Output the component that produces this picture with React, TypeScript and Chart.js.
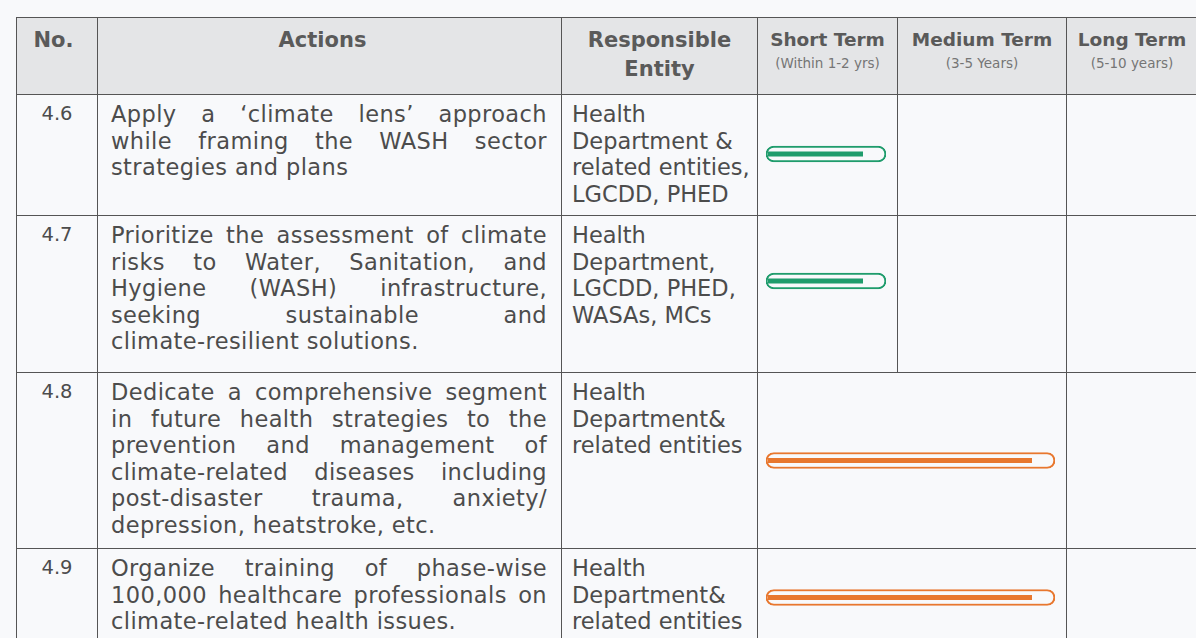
import React, { useEffect, useRef } from "react";
import { Chart, registerables } from "chart.js";

Chart.register(...registerables);

// ---------- data ----------
const ids = ["4.6", "4.7", "4.8", "4.9"];

const actions: string[][] = [
  ["Apply a ‘climate lens’ approach", "while framing the WASH sector", "strategies and plans"],
  [
    "Prioritize the assessment of climate",
    "risks to Water, Sanitation, and",
    "Hygiene (WASH) infrastructure,",
    "seeking sustainable and",
    "climate-resilient solutions.",
  ],
  [
    "Dedicate a comprehensive segment",
    "in future health strategies to the",
    "prevention and management of",
    "climate-related diseases including",
    "post-disaster trauma, anxiety/",
    "depression, heatstroke, etc.",
  ],
  [
    "Organize training of phase-wise",
    "100,000 healthcare professionals on",
    "climate-related health issues.",
  ],
];

const entities: string[][] = [
  ["Health", "Department &", "related entities,", "LGCDD, PHED"],
  ["Health", "Department,", "LGCDD, PHED,", "WASAs, MCs"],
  ["Health", "Department&", "related entities"],
  ["Health", "Department&", "related entities"],
];

// timeframe as term-column indices: 0 = Short, 1 = Medium, 2 = Long
const startTerm = [0, 0, 0, 0];
const endTerm = [1, 1, 2, 2];

const termTitles = ["Short Term", "Medium Term", "Long Term"];
const termSubtitles = ["(Within 1-2 yrs)", "(3-5 Years)", "(5-10 years)"];

// ---------- styles ----------
const PAGE_BG = "#f8f9fb";
const HEAD_BG = "#e4e5e7";
const LINE = "1.5px solid #555";
const spanColors: Record<number, string> = { 1: "#1f9c6c", 2: "#e8772e" };
const rowHeights = [121, 157, 176, 98];
const barPadBottom = [2, 26, 0, 0];
const colWidths = [81, 464, 196, 140, 169, 131];

const innerBarPlugin = {
  id: "innerBar",
  afterDatasetsDraw(chart: any) {
    const meta = chart.getDatasetMeta(0);
    const ctx = chart.ctx;
    const color = chart.data.datasets[0].borderColor;
    meta.data.forEach((el: any) => {
      const p = el.getProps(["x", "y", "base"], true);
      const left = Math.min(p.base, p.x) + 2;
      const right = Math.max(p.base, p.x) - 23;
      ctx.save();
      ctx.fillStyle = color;
      ctx.fillRect(left, p.y - 2.5, right - left, 5);
      ctx.restore();
    });
  },
};

function TermBar({ id, start, end, padBottom }: { id: string; start: number; end: number; padBottom: number }) {
  const ref = useRef<HTMLCanvasElement | null>(null);
  useEffect(() => {
    if (!ref.current) return;
    const color = spanColors[end - start] || "#1f9c6c";
    const chart = new Chart(ref.current, {
      type: "bar",
      data: {
        labels: [id],
        datasets: [
          {
            data: [[start, end]] as any,
            backgroundColor: PAGE_BG,
            borderColor: color,
            borderWidth: 2,
            borderRadius: 8,
            borderSkipped: false,
            barThickness: 16,
          },
        ],
      },
      options: {
        indexAxis: "y",
        animation: false,
        responsive: true,
        maintainAspectRatio: false,
        layout: { padding: { left: 8, right: 11, top: 0, bottom: padBottom } },
        scales: {
          x: { type: "linear", min: start, max: end, display: false },
          y: { display: false },
        },
        plugins: { legend: { display: false }, tooltip: { enabled: false } },
      },
      plugins: [innerBarPlugin],
    });
    return () => chart.destroy();
  }, [id, start, end, padBottom]);
  return (
    <div style={{ position: "absolute", left: 0, top: 0, right: 0, bottom: 0 }}>
      <canvas ref={ref} />
    </div>
  );
}

const font = "'DejaVu Sans', 'Open Sans', sans-serif";

export default function App() {
  const th: React.CSSProperties = {
    border: LINE,
    background: HEAD_BG,
    color: "#5a5a5a",
    fontWeight: 700,
    verticalAlign: "top",
    textAlign: "center",
    padding: 0,
  };
  const td: React.CSSProperties = {
    border: LINE,
    verticalAlign: "top",
    padding: 0,
    color: "#4c4c4c",
    fontSize: 22.5,
    lineHeight: "26.5px",
  };
  return (
    <div
      style={{
        position: "fixed",
        left: 0,
        top: 0,
        right: 0,
        bottom: 0,
        overflow: "hidden",
        background: PAGE_BG,
        fontFamily: font,
      }}
    >
      <table
        style={{
          position: "absolute",
          left: 16,
          top: 17,
          width: colWidths.reduce((a, b) => a + b, 0),
          borderCollapse: "collapse",
          tableLayout: "fixed",
        }}
      >
        <colgroup>
          {colWidths.map((w, i) => (
            <col key={i} style={{ width: w }} />
          ))}
        </colgroup>
        <thead>
          <tr style={{ height: 77 }}>
            <th style={{ ...th, fontSize: 21, lineHeight: "29px", paddingTop: 8, paddingRight: 7 }}>No.</th>
            <th style={{ ...th, fontSize: 21, lineHeight: "29px", paddingTop: 8, paddingRight: 14 }}>Actions</th>
            <th style={{ ...th, fontSize: 21, lineHeight: "29px", paddingTop: 8 }}>
              Responsible
              <br />
              Entity
            </th>
            {termTitles.map((t, i) => (
              <th key={t} style={{ ...th, paddingTop: 10 }}>
                <div style={{ fontSize: 18.5, lineHeight: "24px", whiteSpace: "nowrap" }}>{t}</div>
                <div
                  style={{
                    fontSize: 13.5,
                    lineHeight: "22px",
                    fontWeight: 400,
                    color: "#757575",
                    whiteSpace: "nowrap",
                  }}
                >
                  {termSubtitles[i]}
                </div>
              </th>
            ))}
          </tr>
        </thead>
        <tbody>
          {ids.map((id, r) => {
            const cells: React.ReactNode[] = [];
            for (let t = 0; t < termTitles.length; t++) {
              if (t === startTerm[r]) {
                cells.push(
                  <td
                    key={t}
                    colSpan={endTerm[r] - startTerm[r]}
                    style={{ ...td, position: "relative" }}
                  >
                    <TermBar id={id} start={startTerm[r]} end={endTerm[r]} padBottom={barPadBottom[r]} />
                  </td>
                );
                t = endTerm[r] - 1;
              } else {
                cells.push(<td key={t} style={td} />);
              }
            }
            return (
              <tr key={id} style={{ height: rowHeights[r] }}>
                <td style={{ ...td, textAlign: "center", fontSize: 19.5, paddingTop: 6 }}>{id}</td>
                <td style={{ ...td, padding: "6px 14px 0 13px" }}>
                  {actions[r].map((line, k) => {
                    const last = k === actions[r].length - 1;
                    return (
                      <div
                        key={k}
                        style={{
                          textAlign: last ? "left" : "justify",
                          textAlignLast: last ? "left" : "justify",
                          whiteSpace: "nowrap",
                          letterSpacing: "0.4px",
                        }}
                      >
                        {line}
                      </div>
                    );
                  })}
                </td>
                <td style={{ ...td, padding: "6px 0 0 10px" }}>
                  {entities[r].map((line, k) => (
                    <div key={k} style={{ whiteSpace: "nowrap" }}>
                      {line}
                    </div>
                  ))}
                </td>
                {cells}
              </tr>
            );
          })}
        </tbody>
      </table>
    </div>
  );
}
